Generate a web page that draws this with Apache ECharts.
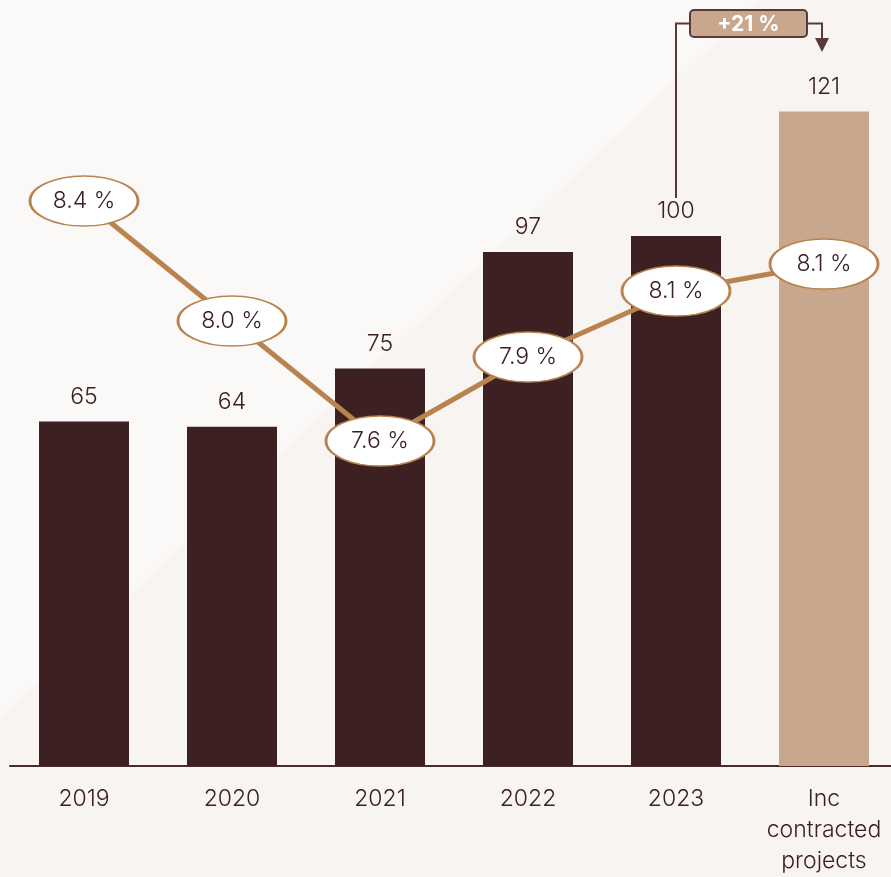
<!DOCTYPE html>
<html><head><meta charset="utf-8">
<script src="https://cdn.jsdelivr.net/npm/echarts@6/dist/echarts.min.js"></script>
<style>html,body{margin:0;padding:0;background:#f8f4f1}#c{width:891px;height:877px}</style>
</head><body><div id="c"></div>
<script>
const categories = ['2019', '2020', '2021', '2022', '2023', 'Inc\ncontracted\nprojects'];
// bar heights as drawn in the picture; printed labels below
const barValues = [65, 64, 75, 97, 100, 123.5];
const barLabels = ['65', '64', '75', '97', '100', '121'];
// line positions as drawn; printed labels below
const lineValues = [8.4, 8.0, 7.6, 7.88, 8.1, 8.19];
const lineLabels = ['8.4 %', '8.0 %', '7.6 %', '7.9 %', '8.1 %', '8.1 %'];
const growthLabel = '+21 %';

const DARK = '#3d2022';
const TAN = '#c9a78d';
const LINE = '#b9834f';
const FONT = 'Inter';
const FS = 23;
const FW = 300;

const chart = echarts.init(document.getElementById('c'), null, {renderer: 'canvas'});

const bgGraphic = {
  type: 'polygon', id: 'bg', silent: true, z: -100,
  shape: {points: [[0, 0], [760, 0], [0, 718]]},
  style: {fill: '#fbf9f8'}
};

chart.setOption({
  animation: false,
  backgroundColor: '#f8f4f1',
  textStyle: {fontFamily: FONT},
  grid: {left: 10, width: 888, top: 24, bottom: 111, containLabel: false, outerBoundsMode: 'none'},
  xAxis: {
    type: 'category', data: categories,
    axisLine: {lineStyle: {color: '#4a2c2c', width: 2}},
    axisTick: {show: false},
    axisLabel: {color: DARK, fontSize: FS, fontWeight: FW, fontFamily: FONT, lineHeight: 31, margin: 18, interval: 0}
  },
  yAxis: [
    {type: 'value', min: 0, max: 140, show: false},
    {type: 'value', min: 6.5167, max: 8.99, show: false}
  ],
  graphic: [bgGraphic],
  series: [
    {
      type: 'bar', yAxisIndex: 0, barWidth: 90,
      data: barValues.map((v, i) => ({
        value: v,
        itemStyle: {color: i === barValues.length - 1 ? TAN : DARK}
      })),
      label: {
        show: true, position: 'top', distance: 13,
        color: DARK, fontSize: FS, fontWeight: FW, fontFamily: FONT,
        formatter: p => barLabels[p.dataIndex]
      },
      emphasis: {disabled: true}
    },
    {
      type: 'line', yAxisIndex: 1, data: lineValues,
      lineStyle: {color: LINE, width: 5},
      symbol: 'path://M0,25A54,25,0,1,1,108,25A54,25,0,1,1,0,25Z',
      symbolSize: [108, 50],
      itemStyle: {color: '#ffffff', borderColor: LINE, borderWidth: 2},
      label: {
        show: true, position: 'inside',
        color: DARK, fontSize: FS, fontWeight: FW, fontFamily: FONT,
        formatter: p => lineLabels[p.dataIndex]
      },
      emphasis: {disabled: true},
      z: 3
    }
  ]
});

// growth annotation between 2023 bar and the last bar
const p4 = chart.convertToPixel({seriesIndex: 0}, [4, barValues[4]]);
const p5 = chart.convertToPixel({seriesIndex: 0}, [5, barValues[5]]);
const boxL = p4[0] + 14, boxR = p5[0] - 17, boxT = 10, boxH = 27;
const midY = boxT + boxH / 2;
const arrowX = p5[0] - 2;
const annColor = '#5a3a37';
chart.setOption({
  graphic: [
    bgGraphic,
    {type: 'polyline', id: 'l1', silent: true, z: 10,
     shape: {points: [[p4[0], p4[1] - 38], [p4[0], midY], [boxL, midY]]},
     style: {stroke: annColor, lineWidth: 2, fill: null}},
    {type: 'polyline', id: 'l2', silent: true, z: 10,
     shape: {points: [[boxR, midY], [arrowX, midY], [arrowX, 40]]},
     style: {stroke: annColor, lineWidth: 2, fill: null}},
    {type: 'polygon', id: 'ah', silent: true, z: 10,
     shape: {points: [[arrowX - 7, 38], [arrowX + 7, 38], [arrowX, 52]]},
     style: {fill: annColor}},
    {type: 'rect', id: 'box', silent: true, z: 11,
     shape: {x: boxL, y: boxT, width: boxR - boxL, height: boxH, r: 4},
     style: {fill: TAN, stroke: annColor, lineWidth: 2}},
    {type: 'text', id: 'boxt', silent: true, z: 12,
     x: (boxL + boxR) / 2, y: midY + 1,
     style: {text: growthLabel, fill: '#ffffff', font: 'bold 21px ' + FONT,
             textAlign: 'center', textVerticalAlign: 'middle'}}
  ]
});
</script>
</body></html>
